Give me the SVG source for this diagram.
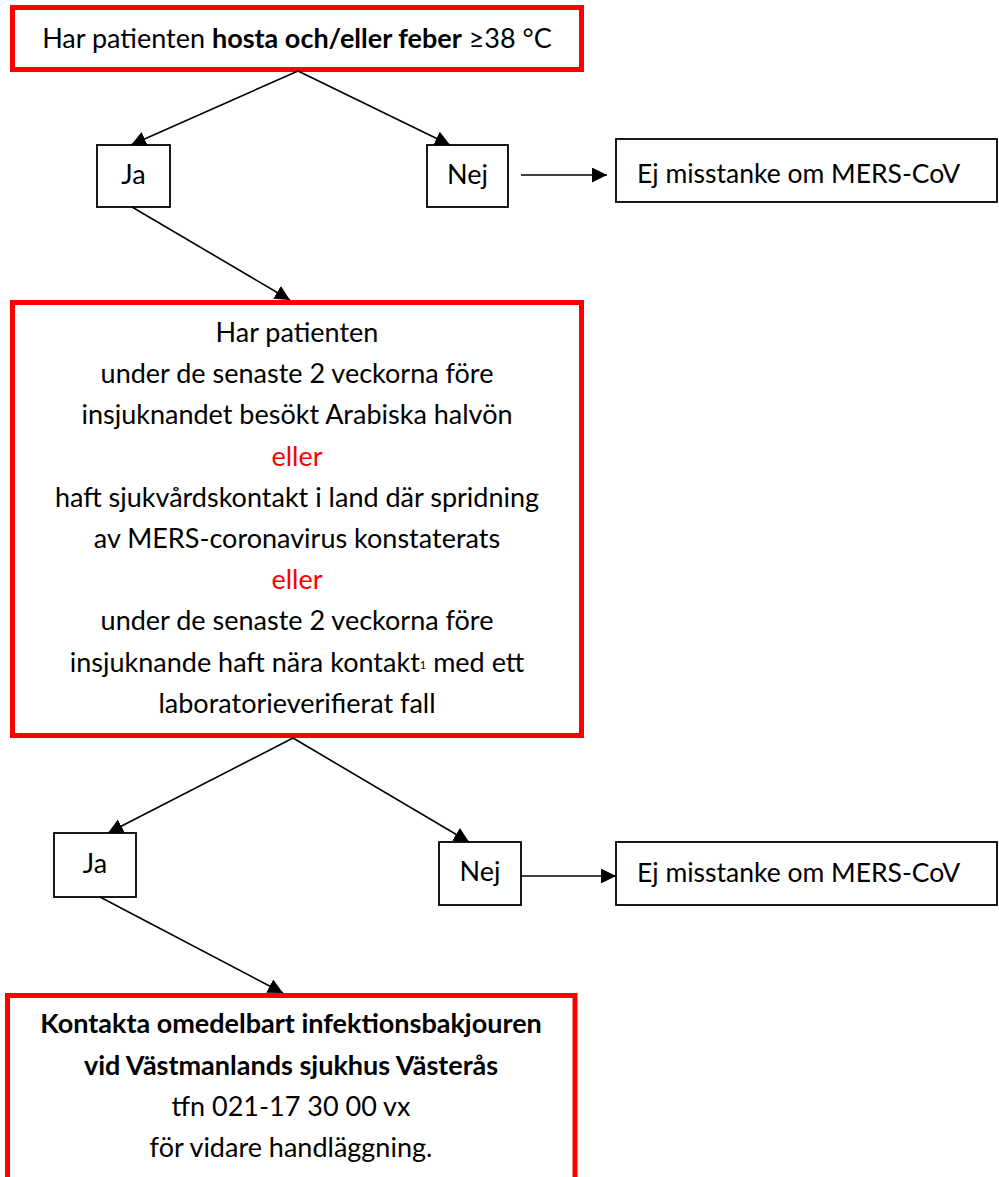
<svg xmlns="http://www.w3.org/2000/svg" width="999" height="1177" viewBox="0 0 999 1177">
<style>
text{font-family:Lato,"Liberation Sans",sans-serif;fill:#000;}
.t{font-size:27px;text-anchor:middle;}
.s{font-size:26.5px;}
.b{font-weight:bold;}
.red{fill:#ff0000;}
.rbox{fill:#fff;stroke:#ff0000;stroke-width:5;}
.box{fill:#fff;stroke:#000;stroke-width:1.8;}
.con{stroke:#000;stroke-width:1.6;fill:none;marker-end:url(#ah);}
</style>
<defs>
<marker id="ah" markerUnits="userSpaceOnUse" markerWidth="16" markerHeight="16" refX="15" refY="7.5" orient="auto">
<path d="M0,0 L15,7.5 L0,15 z" fill="#000"/>
</marker>
</defs>
<g id="q1">
<rect class="rbox" x="12.5" y="7.5" width="569" height="62"/>
<text class="t" x="297" y="48">Har patienten <tspan class="b">hosta och/eller feber</tspan> ≥38 °C</text>
</g>
<g id="ja1">
<rect class="box" x="97" y="145" width="73" height="62"/>
<text class="t" x="133.5" y="184">Ja</text>
</g>
<g id="nej1">
<rect class="box" x="427" y="145" width="81" height="62"/>
<text class="t" x="467.5" y="184">Nej</text>
</g>
<g id="ej1">
<rect class="box" x="616" y="139" width="381" height="63"/>
<text class="s" x="637" y="183">Ej misstanke om MERS-CoV</text>
</g>
<g id="q2">
<rect class="rbox" x="12.5" y="302.5" width="569" height="433"/>
<text class="t" x="297" y="342">Har patienten</text>
<text class="t" x="297" y="383.2">under de senaste 2 veckorna före</text>
<text class="t" x="297" y="424.4">insjuknandet besökt Arabiska halvön</text>
<text class="t red" x="297" y="465.6">eller</text>
<text class="t" x="297" y="506.8">haft sjukvårdskontakt i land där spridning</text>
<text class="t" x="297" y="548">av MERS-coronavirus konstaterats</text>
<text class="t red" x="297" y="589.2">eller</text>
<text class="t" x="297" y="630.4">under de senaste 2 veckorna före</text>
<text class="t" x="297" y="671.6">insjuknande haft nära kontakt<tspan font-size="11" dy="-3">1</tspan><tspan dy="3"> med ett</tspan></text>
<text class="t" x="297" y="712.8">laboratorieverifierat fall</text>
</g>
<g id="ja2">
<rect class="box" x="54" y="833" width="82" height="64"/>
<text class="t" x="95" y="873">Ja</text>
</g>
<g id="nej2">
<rect class="box" x="439" y="842" width="82" height="63"/>
<text class="t" x="480" y="881">Nej</text>
</g>
<g id="ej2">
<rect class="box" x="616" y="842" width="381" height="63"/>
<text class="s" x="637" y="882">Ej misstanke om MERS-CoV</text>
</g>
<g id="action">
<path d="M7.5,1185 V995.5 H575 V1185" fill="#fff" stroke="#ff0000" stroke-width="5"/>
<text class="t b" x="291" y="1033">Kontakta omedelbart infektionsbakjouren</text>
<text class="t b" x="291" y="1075">vid Västmanlands sjukhus Västerås</text>
<text class="t" x="291" y="1116">tfn 021-17 30 00 vx</text>
<text class="t" x="291" y="1157">för vidare handläggning.</text>
</g>
<g id="connectors">
<line class="con" x1="298" y1="71" x2="131" y2="145"/>
<line class="con" x1="298" y1="71" x2="450" y2="145"/>
<line class="con" x1="521" y1="175" x2="607" y2="175"/>
<line class="con" x1="132" y1="207" x2="290" y2="300"/>
<line class="con" x1="293" y1="738" x2="108" y2="833"/>
<line class="con" x1="293" y1="738" x2="469" y2="842"/>
<line class="con" x1="521" y1="876" x2="616" y2="876"/>
<line class="con" x1="100" y1="897" x2="283" y2="993"/>
</g>
</svg>
